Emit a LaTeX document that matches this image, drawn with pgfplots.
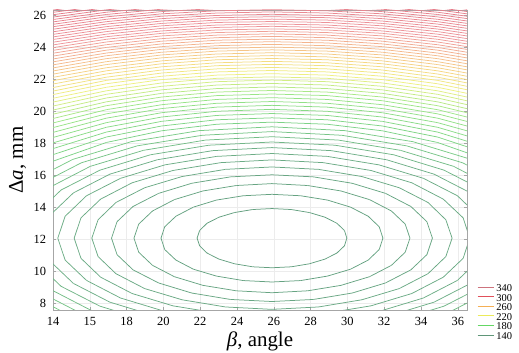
\documentclass[border=0pt]{standalone}
\usepackage{pgfplots}
\pgfplotsset{compat=1.18}
\usepackage{fontspec}
\setmainfont{Liberation Serif}
\definecolor{l340}{RGB}{205,115,125}
\definecolor{l300}{RGB}{225,80,90}
\definecolor{l260}{RGB}{245,175,85}
\definecolor{l220}{RGB}{235,235,90}
\definecolor{l180}{RGB}{100,215,100}
\definecolor{l140}{RGB}{95,150,120}
\pgfplotsset{cl/.style={mesh, forget plot, line width=0.75bp, point meta=#1}}
\begin{document}
\begin{tikzpicture}
\path[use as bounding box] (0,0) rectangle (519bp,353bp);
\begin{axis}[
  at={(53bp,43bp)}, anchor=south west,
  width=414bp, height=300bp, scale only axis,
  xmin=14, xmax=36.5, ymin=7.56, ymax=26.31,
  xtick={14,16,18,20,22,24,26,28,30,32,34,36},
  xticklabels={14,15,18,20,22,24,26,28,30,32,34,36},
  ytick={8,10,12,14,16,18,20,22,24,26},
  /pgf/number format/assume math mode=true,
  ticklabel style={font=\fontsize{12.5}{12.5}\selectfont},
  xticklabel style={yshift=-3.5bp},
  yticklabel style={xshift=-3.5bp},
  tick align=inside, major tick length=3bp,
  tick style={gray!70, line width=0.5bp},
  axis line style={gray!70, line width=0.6bp},
  grid=major, grid style={gray!15, line width=0.4bp},
  xlabel={{\itshape β}, angle},
  ylabel={Δ{\itshape a}, mm},
  label style={font=\fontsize{21}{21}\selectfont},
  xlabel style={at={(axis description cs:0.5,-0.123)}, anchor=base},
  ylabel style={at={(axis description cs:-0.0725,0.5)}, anchor=base},
  point meta min=1, point meta max=57,
  colormap={cmap}{rgb255(0pt)=(100,160,128) rgb255(7pt)=(110,175,135) rgb255(12pt)=(125,210,135) rgb255(19pt)=(155,230,135) rgb255(25pt)=(238,240,130) rgb255(30pt)=(245,215,130) rgb255(35pt)=(245,185,140) rgb255(42pt)=(238,150,155) rgb255(56pt)=(228,120,135)},
  legend image code/.code={\draw[#1] (0bp,0bp) -- (16bp,0bp);},
  legend style={at={(axis description cs:1,0)}, anchor=west, xshift=10bp, yshift=-1bp,
    draw=none, fill=none, inner sep=0pt, row sep=0pt, column sep=2bp,
    font=\fontsize{10.5}{10.5}\selectfont,
    nodes={inner sep=0.3bp, text height=9bp, text depth=0bp}},
  legend cell align=left,
]
% closed / clipped ellipses k=1..12
\addplot[cl=1] coordinates {(29.97,12.05)(29.84,12.53)(29.43,12.98)(28.78,13.36)(27.94,13.65)(26.95,13.84)(25.90,13.90)(24.85,13.84)(23.86,13.65)(23.02,13.36)(22.37,12.98)(21.97,12.53)(21.83,12.05)(21.97,11.57)(22.37,11.12)(23.02,10.74)(23.86,10.45)(24.85,10.26)(25.90,10.20)(26.95,10.26)(27.94,10.45)(28.78,10.74)(29.43,11.12)(29.84,11.57)(29.97,12.05)};
\addplot[cl=2] coordinates {(31.93,12.05)(31.73,12.76)(31.13,13.42)(30.17,13.99)(28.92,14.43)(27.46,14.70)(25.90,14.79)(24.34,14.70)(22.88,14.43)(21.63,13.99)(20.68,13.42)(20.07,12.76)(19.87,12.05)(20.07,11.34)(20.68,10.68)(21.63,10.11)(22.88,9.68)(24.34,9.40)(25.90,9.31)(27.46,9.40)(28.92,9.68)(30.17,10.11)(31.13,10.68)(31.73,11.34)(31.93,12.05)};
\addplot[cl=3] coordinates {(33.40,12.05)(33.14,12.93)(32.39,13.75)(31.20,14.46)(29.65,15.00)(27.84,15.34)(25.90,15.46)(23.96,15.34)(22.15,15.00)(20.60,14.46)(19.41,13.75)(18.66,12.93)(18.40,12.05)(18.66,11.17)(19.41,10.35)(20.60,9.64)(22.15,9.10)(23.96,8.76)(25.90,8.64)(27.84,8.76)(29.65,9.10)(31.20,9.64)(32.39,10.35)(33.14,11.17)(33.40,12.05)};
\addplot[cl=4] coordinates {(34.62,12.05)(34.32,13.08)(33.45,14.03)(32.07,14.85)(30.26,15.48)(28.16,15.88)(25.90,16.01)(23.64,15.88)(21.54,15.48)(19.74,14.85)(18.35,14.03)(17.48,13.08)(17.18,12.05)(17.48,11.02)(18.35,10.07)(19.74,9.25)(21.54,8.62)(23.64,8.22)(25.90,8.09)(28.16,8.22)(30.26,8.62)(32.07,9.25)(33.45,10.07)(34.32,11.02)(34.62,12.05)};
\addplot[cl=5] coordinates {(35.69,12.05)(35.35,13.20)(34.38,14.28)(32.82,15.20)(30.79,15.90)(28.43,16.35)(25.90,16.50)(23.37,16.35)(21.01,15.90)(18.98,15.20)(17.42,14.28)(16.45,13.20)(16.11,12.05)(16.45,10.90)(17.42,9.83)(18.98,8.90)(21.01,8.20)(23.37,7.75)(25.90,7.60)(28.43,7.75)(30.79,8.20)(32.82,8.90)(34.38,9.83)(35.35,10.90)(35.69,12.05)};
\addplot[cl=6] coordinates {(36.65,12.05)(36.29,13.32)(35.21,14.49)(33.50,15.51)(31.28,16.28)(28.68,16.77)(25.90,16.94)(23.12,16.77)(20.52,16.28)(18.30,15.51)(16.59,14.49)(15.52,13.32)(15.15,12.05)(15.52,10.79)(16.59,9.61)(18.30,8.59)(20.52,7.82)(23.12,7.33)(25.90,7.16)(28.68,7.33)(31.28,7.82)(33.50,8.59)(35.21,9.61)(36.29,10.79)(36.65,12.05)};
\addplot[cl=7] coordinates {(37.54,12.05)(37.14,13.42)(35.98,14.70)(34.13,15.79)(31.72,16.63)(28.91,17.16)(25.90,17.34)(22.89,17.16)(20.08,16.63)(17.67,15.79)(15.82,14.70)(14.66,13.42)(14.26,12.05)(14.66,10.68)(15.82,9.41)(17.67,8.31)(20.08,7.47)(22.89,6.94)(25.90,6.76)(28.91,6.94)(31.72,7.47)(34.13,8.31)(35.98,9.41)(37.14,10.68)(37.54,12.05)};
\addplot[cl=8] coordinates {(38.36,12.05)(37.93,13.52)(36.69,14.88)(34.71,16.05)(32.13,16.95)(29.12,17.52)(25.90,17.71)(22.68,17.52)(19.67,16.95)(17.09,16.05)(15.11,14.88)(13.87,13.52)(13.44,12.05)(13.87,10.58)(15.11,9.22)(17.09,8.05)(19.67,7.15)(22.68,6.58)(25.90,6.39)(29.12,6.58)(32.13,7.15)(34.71,8.05)(36.69,9.22)(37.93,10.58)(38.36,12.05)};
\addplot[cl=9] coordinates {(39.13,12.05)(38.68,13.61)(37.36,15.06)(35.25,16.30)(32.52,17.26)(29.32,17.86)(25.90,18.06)(22.48,17.86)(19.29,17.26)(16.55,16.30)(14.44,15.06)(13.12,13.61)(12.67,12.05)(13.12,10.49)(14.44,9.04)(16.55,7.80)(19.29,6.84)(22.48,6.24)(25.90,6.04)(29.32,6.24)(32.52,6.84)(35.25,7.80)(37.36,9.04)(38.68,10.49)(39.13,12.05)};
\addplot[cl=10] coordinates {(39.86,12.05)(39.38,13.69)(37.99,15.22)(35.77,16.54)(32.88,17.54)(29.51,18.18)(25.90,18.39)(22.29,18.18)(18.92,17.54)(16.03,16.54)(13.81,15.22)(12.42,13.69)(11.94,12.05)(12.42,10.41)(13.81,8.88)(16.03,7.56)(18.92,6.56)(22.29,5.92)(25.90,5.71)(29.51,5.92)(32.88,6.56)(35.77,7.56)(37.99,8.88)(39.38,10.41)(39.86,12.05)};
\addplot[cl=11] coordinates {(40.55,12.05)(40.05,13.77)(38.59,15.38)(36.26,16.76)(33.22,17.82)(29.69,18.48)(25.90,18.71)(22.11,18.48)(18.58,17.82)(15.54,16.76)(13.21,15.38)(11.75,13.77)(11.25,12.05)(11.75,10.33)(13.21,8.72)(15.54,7.34)(18.58,6.28)(22.11,5.62)(25.90,5.39)(29.69,5.62)(33.22,6.28)(36.26,7.34)(38.59,8.72)(40.05,10.33)(40.55,12.05)};
\addplot[cl=12] coordinates {(41.21,12.05)(40.69,13.85)(39.16,15.53)(36.73,16.97)(33.56,18.08)(29.86,18.77)(25.90,19.01)(21.94,18.77)(18.25,18.08)(15.07,16.97)(12.64,15.53)(11.11,13.85)(10.59,12.05)(11.11,10.25)(12.64,8.57)(15.07,7.13)(18.25,6.02)(21.94,5.28)(25.90,5.09)(29.86,5.28)(33.56,6.02)(36.73,7.13)(39.16,8.57)(40.69,10.25)(41.21,12.05)};
% upper arcs k=13..57
\addplot[cl=13] coordinates {(13.9,16.82)(16.9,18.03)(19.9,18.76)(22.9,19.17)(25.9,19.30)(28.9,19.17)(31.9,18.76)(34.9,18.03)(37.9,16.82)};
\addplot[cl=14] coordinates {(13.9,17.23)(16.9,18.37)(19.9,19.06)(22.9,19.45)(25.9,19.57)(28.9,19.45)(31.9,19.06)(34.9,18.37)(37.9,17.23)};
\addplot[cl=15] coordinates {(13.9,17.61)(16.9,18.68)(19.9,19.35)(22.9,19.72)(25.9,19.84)(28.9,19.72)(31.9,19.35)(34.9,18.68)(37.9,17.61)};
\addplot[cl=16] coordinates {(13.9,17.97)(16.9,18.98)(19.9,19.62)(22.9,19.98)(25.9,20.10)(28.9,19.98)(31.9,19.62)(34.9,18.98)(37.9,17.97)};
\addplot[cl=17] coordinates {(13.9,18.31)(16.9,19.27)(19.9,19.89)(22.9,20.24)(25.9,20.35)(28.9,20.24)(31.9,19.89)(34.9,19.27)(37.9,18.31)};
\addplot[cl=18] coordinates {(13.9,18.63)(16.9,19.55)(19.9,20.15)(22.9,20.48)(25.9,20.59)(28.9,20.48)(31.9,20.15)(34.9,19.55)(37.9,18.63)};
\addplot[cl=19] coordinates {(13.9,18.93)(16.9,19.82)(19.9,20.39)(22.9,20.72)(25.9,20.83)(28.9,20.72)(31.9,20.39)(34.9,19.82)(37.9,18.93)};
\addplot[cl=20] coordinates {(13.9,19.22)(16.9,20.08)(19.9,20.64)(22.9,20.96)(25.9,21.06)(28.9,20.96)(31.9,20.64)(34.9,20.08)(37.9,19.22)};
\addplot[cl=21] coordinates {(13.9,19.50)(16.9,20.33)(19.9,20.87)(22.9,21.18)(25.9,21.28)(28.9,21.18)(31.9,20.87)(34.9,20.33)(37.9,19.50)};
\addplot[cl=22] coordinates {(13.9,19.77)(16.9,20.57)(19.9,21.10)(22.9,21.40)(25.9,21.50)(28.9,21.40)(31.9,21.10)(34.9,20.57)(37.9,19.77)};
\addplot[cl=23] coordinates {(13.9,20.03)(16.9,20.81)(19.9,21.32)(22.9,21.62)(25.9,21.72)(28.9,21.62)(31.9,21.32)(34.9,20.81)(37.9,20.03)};
\addplot[cl=24] coordinates {(13.9,20.28)(16.9,21.04)(19.9,21.54)(22.9,21.83)(25.9,21.93)(28.9,21.83)(31.9,21.54)(34.9,21.04)(37.9,20.28)};
\addplot[cl=25] coordinates {(13.9,20.53)(16.9,21.26)(19.9,21.75)(22.9,22.04)(25.9,22.13)(28.9,22.04)(31.9,21.75)(34.9,21.26)(37.9,20.53)};
\addplot[cl=26] coordinates {(13.9,20.77)(16.9,21.48)(19.9,21.96)(22.9,22.24)(25.9,22.33)(28.9,22.24)(31.9,21.96)(34.9,21.48)(37.9,20.77)};
\addplot[cl=27] coordinates {(13.9,21.00)(16.9,21.70)(19.9,22.17)(22.9,22.44)(25.9,22.53)(28.9,22.44)(31.9,22.17)(34.9,21.70)(37.9,21.00)};
\addplot[cl=28] coordinates {(13.9,21.22)(16.9,21.91)(19.9,22.37)(22.9,22.63)(25.9,22.72)(28.9,22.63)(31.9,22.37)(34.9,21.91)(37.9,21.22)};
\addplot[cl=29] coordinates {(13.9,21.44)(16.9,22.11)(19.9,22.56)(22.9,22.83)(25.9,22.91)(28.9,22.83)(31.9,22.56)(34.9,22.11)(37.9,21.44)};
\addplot[cl=30] coordinates {(13.9,21.66)(16.9,22.31)(19.9,22.76)(22.9,23.01)(25.9,23.10)(28.9,23.01)(31.9,22.76)(34.9,22.31)(37.9,21.66)};
\addplot[cl=31] coordinates {(13.9,21.87)(16.9,22.51)(19.9,22.95)(22.9,23.20)(25.9,23.28)(28.9,23.20)(31.9,22.95)(34.9,22.51)(37.9,21.87)};
\addplot[cl=32] coordinates {(13.9,22.08)(16.9,22.70)(19.9,23.13)(22.9,23.38)(25.9,23.46)(28.9,23.38)(31.9,23.13)(34.9,22.70)(37.9,22.08)};
\addplot[cl=33] coordinates {(13.9,22.28)(16.9,22.90)(19.9,23.32)(22.9,23.56)(25.9,23.64)(28.9,23.56)(31.9,23.32)(34.9,22.90)(37.9,22.28)};
\addplot[cl=34] coordinates {(13.9,22.48)(16.9,23.08)(19.9,23.50)(22.9,23.74)(25.9,23.82)(28.9,23.74)(31.9,23.50)(34.9,23.08)(37.9,22.48)};
\addplot[cl=35] coordinates {(13.9,22.67)(16.9,23.27)(19.9,23.67)(22.9,23.91)(25.9,23.99)(28.9,23.91)(31.9,23.67)(34.9,23.27)(37.9,22.67)};
\addplot[cl=36] coordinates {(13.9,22.86)(16.9,23.45)(19.9,23.85)(22.9,24.08)(25.9,24.16)(28.9,24.08)(31.9,23.85)(34.9,23.45)(37.9,22.86)};
\addplot[cl=37] coordinates {(13.9,23.05)(16.9,23.62)(19.9,24.02)(22.9,24.25)(25.9,24.33)(28.9,24.25)(31.9,24.02)(34.9,23.62)(37.9,23.05)};
\addplot[cl=38] coordinates {(13.9,23.23)(16.9,23.80)(19.9,24.19)(22.9,24.42)(25.9,24.49)(28.9,24.42)(31.9,24.19)(34.9,23.80)(37.9,23.23)};
\addplot[cl=39] coordinates {(13.9,23.41)(16.9,23.97)(19.9,24.36)(22.9,24.58)(25.9,24.66)(28.9,24.58)(31.9,24.36)(34.9,23.97)(37.9,23.41)};
\addplot[cl=40] coordinates {(13.9,23.59)(16.9,24.14)(19.9,24.52)(22.9,24.74)(25.9,24.82)(28.9,24.74)(31.9,24.52)(34.9,24.14)(37.9,23.59)};
\addplot[cl=41] coordinates {(13.9,23.77)(16.9,24.31)(19.9,24.69)(22.9,24.90)(25.9,24.98)(28.9,24.90)(31.9,24.69)(34.9,24.31)(37.9,23.77)};
\addplot[cl=42] coordinates {(13.9,23.94)(16.9,24.48)(19.9,24.85)(22.9,25.06)(25.9,25.13)(28.9,25.06)(31.9,24.85)(34.9,24.48)(37.9,23.94)};
\addplot[cl=43] coordinates {(13.9,24.11)(16.9,24.64)(19.9,25.00)(22.9,25.22)(25.9,25.29)(28.9,25.22)(31.9,25.00)(34.9,24.64)(37.9,24.11)};
\addplot[cl=44] coordinates {(13.9,24.28)(16.9,24.80)(19.9,25.16)(22.9,25.37)(25.9,25.44)(28.9,25.37)(31.9,25.16)(34.9,24.80)(37.9,24.28)};
\addplot[cl=45] coordinates {(13.9,24.45)(16.9,24.96)(19.9,25.32)(22.9,25.53)(25.9,25.59)(28.9,25.53)(31.9,25.32)(34.9,24.96)(37.9,24.45)};
\addplot[cl=46] coordinates {(13.9,24.61)(16.9,25.12)(19.9,25.47)(22.9,25.68)(25.9,25.74)(28.9,25.68)(31.9,25.47)(34.9,25.12)(37.9,24.61)};
\addplot[cl=47] coordinates {(13.9,24.77)(16.9,25.27)(19.9,25.62)(22.9,25.83)(25.9,25.89)(28.9,25.83)(31.9,25.62)(34.9,25.27)(37.9,24.77)};
\addplot[cl=48] coordinates {(13.9,24.93)(16.9,25.43)(19.9,25.77)(22.9,25.97)(25.9,26.04)(28.9,25.97)(31.9,25.77)(34.9,25.43)(37.9,24.93)};
\addplot[cl=49] coordinates {(13.9,25.09)(16.9,25.58)(19.9,25.92)(22.9,26.12)(25.9,26.19)(28.9,26.12)(31.9,25.92)(34.9,25.58)(37.9,25.09)};
\addplot[cl=50] coordinates {(13.9,25.25)(16.9,25.73)(19.9,26.07)(22.9,26.26)(25.9,26.33)(28.9,26.26)(31.9,26.07)(34.9,25.73)(37.9,25.25)};
\addplot[cl=51] coordinates {(13.9,25.40)(16.9,25.88)(19.9,26.21)(22.9,26.41)(25.9,26.47)(28.9,26.41)(31.9,26.21)(34.9,25.88)(37.9,25.40)};
\addplot[cl=52] coordinates {(13.9,25.55)(16.9,26.03)(19.9,26.36)(22.9,26.55)(25.9,26.61)(28.9,26.55)(31.9,26.36)(34.9,26.03)(37.9,25.55)};
\addplot[cl=53] coordinates {(13.9,25.70)(16.9,26.17)(19.9,26.50)(22.9,26.69)(25.9,26.75)(28.9,26.69)(31.9,26.50)(34.9,26.17)(37.9,25.70)};
\addplot[cl=54] coordinates {(13.9,25.85)(16.9,26.32)(19.9,26.64)(22.9,26.83)(25.9,26.89)(28.9,26.83)(31.9,26.64)(34.9,26.32)(37.9,25.85)};
\addplot[cl=55] coordinates {(13.9,26.00)(16.9,26.46)(19.9,26.78)(22.9,26.97)(25.9,27.03)(28.9,26.97)(31.9,26.78)(34.9,26.46)(37.9,26.00)};
\addplot[cl=56] coordinates {(13.9,26.15)(16.9,26.60)(19.9,26.92)(22.9,27.10)(25.9,27.16)(28.9,27.10)(31.9,26.92)(34.9,26.60)(37.9,26.15)};
\addplot[cl=57] coordinates {(13.9,26.29)(16.9,26.74)(19.9,27.05)(22.9,27.24)(25.9,27.30)(28.9,27.24)(31.9,27.05)(34.9,26.74)(37.9,26.29)};
% legend
\addlegendimage{l340, line width=0.9bp}\addlegendentry{340}
\addlegendimage{l300, line width=0.9bp}\addlegendentry{300}
\addlegendimage{l260, line width=0.9bp}\addlegendentry{260}
\addlegendimage{l220, line width=0.9bp}\addlegendentry{220}
\addlegendimage{l180, line width=0.9bp}\addlegendentry{180}
\addlegendimage{l140, line width=0.9bp}\addlegendentry{140}
\end{axis}
\end{tikzpicture}
\end{document}
